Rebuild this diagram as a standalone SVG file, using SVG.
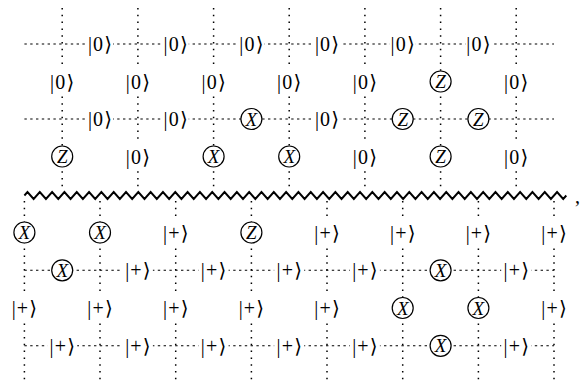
<svg xmlns="http://www.w3.org/2000/svg" width="584" height="383" viewBox="0 0 584 383">
<style>
.v{stroke:#000;stroke-width:1.5;stroke-dasharray:1.5 5.3;fill:none}
.h{stroke:#000;stroke-width:1.1;stroke-dasharray:2.4 3.4;fill:none}
.zz{stroke:#000;stroke-width:1.9;fill:none;stroke-linejoin:miter}
.bg{fill:#fff}
.c{fill:#fff;stroke:#000;stroke-width:1.2}
.t{font-family:"Liberation Serif","DejaVu Serif",serif;font-size:20px;letter-spacing:1.2px;text-anchor:middle;fill:#000}
.i{font-family:"Liberation Serif","DejaVu Serif",serif;font-size:19px;font-style:italic;text-anchor:middle;fill:#000}
</style>
<rect width="584" height="383" fill="#fff"/>
<g id="connectors">
<path class="v" d="M62.2,8V190M137.9,8V190M213.6,8V190M289.2,8V190M364.9,8V190M440.6,8V190M516.2,8V190"/>
<path class="h" d="M24.4,44H554M24.4,119H554"/>
<path class="v" d="M24.4,201V381M100,201V381M175.7,201V381M251.4,201V381M327,201V381M402.7,201V381M478.4,201V381M554,201V381"/>
<path class="h" d="M24.4,270.3H554M24.4,345.8H554"/>
<path class="zz" d="M24.4,195.5l3.079,-3.5 6.158,7 6.158,-7 6.158,7 6.158,-7 6.158,7 6.158,-7 6.158,7 6.158,-7 6.158,7 6.158,-7 6.158,7 6.158,-7 6.158,7 6.158,-7 6.158,7 6.158,-7 6.158,7 6.158,-7 6.158,7 6.158,-7 6.158,7 6.158,-7 6.158,7 6.158,-7 6.158,7 6.158,-7 6.158,7 6.158,-7 6.158,7 6.158,-7 6.158,7 6.158,-7 6.158,7 6.158,-7 6.158,7 6.158,-7 6.158,7 6.158,-7 6.158,7 6.158,-7 6.158,7 6.158,-7 6.158,7 6.158,-7 6.158,7 6.158,-7 6.158,7 6.158,-7 6.158,7 6.158,-7 6.158,7 6.158,-7 6.158,7 6.158,-7 6.158,7 6.158,-7 6.158,7 6.158,-7 6.158,7 6.158,-7 6.158,7 6.158,-7 6.158,7 6.158,-7 6.158,7 6.158,-7 6.158,7 6.158,-7 6.158,7 6.158,-7 6.158,7 6.158,-7 6.158,7 6.158,-7 6.158,7 6.158,-7 6.158,7 6.158,-7 6.158,7 6.158,-7 6.158,7 6.158,-7 6.158,7 6.158,-7 6.158,7 6.158,-7 6.158,7 3.079,-3.5"/>
</g>
<!-- top row 1 -->
<g id="t1a"><rect class="bg" x="87" y="32" width="26" height="24"/><text class="t" x="100.6" y="51">|0⟩</text></g>
<g id="t1b"><rect class="bg" x="162.7" y="32" width="26" height="24"/><text class="t" x="176.3" y="51">|0⟩</text></g>
<g id="t1c"><rect class="bg" x="238.4" y="32" width="26" height="24"/><text class="t" x="252" y="51">|0⟩</text></g>
<g id="t1d"><rect class="bg" x="314" y="32" width="26" height="24"/><text class="t" x="327.6" y="51">|0⟩</text></g>
<g id="t1e"><rect class="bg" x="389.7" y="32" width="26" height="24"/><text class="t" x="403.3" y="51">|0⟩</text></g>
<g id="t1f"><rect class="bg" x="465.4" y="32" width="26" height="24"/><text class="t" x="479" y="51">|0⟩</text></g>
<!-- top row 2 -->
<g id="t2a"><rect class="bg" x="49.2" y="68" width="26" height="27"/><text class="t" x="62.8" y="88.5">|0⟩</text></g>
<g id="t2b"><rect class="bg" x="124.9" y="68" width="26" height="27"/><text class="t" x="138.5" y="88.5">|0⟩</text></g>
<g id="t2c"><rect class="bg" x="200.6" y="68" width="26" height="27"/><text class="t" x="214.2" y="88.5">|0⟩</text></g>
<g id="t2d"><rect class="bg" x="276.2" y="68" width="26" height="27"/><text class="t" x="289.8" y="88.5">|0⟩</text></g>
<g id="t2e"><rect class="bg" x="351.9" y="68" width="26" height="27"/><text class="t" x="365.5" y="88.5">|0⟩</text></g>
<g id="t2f"><circle class="c" cx="440.6" cy="81.5" r="10.5"/><text class="i" x="440.6" y="88">Z</text></g>
<g id="t2g"><rect class="bg" x="503.2" y="68" width="26" height="27"/><text class="t" x="516.8" y="88.5">|0⟩</text></g>
<!-- top row 3 -->
<g id="t3a"><rect class="bg" x="87" y="107" width="26" height="24"/><text class="t" x="100.6" y="126">|0⟩</text></g>
<g id="t3b"><rect class="bg" x="162.7" y="107" width="26" height="24"/><text class="t" x="176.3" y="126">|0⟩</text></g>
<g id="t3c"><circle class="c" cx="251.4" cy="119" r="10.5"/><text class="i" x="251.4" y="125.5">X</text></g>
<g id="t3d"><rect class="bg" x="314" y="107" width="26" height="24"/><text class="t" x="327.6" y="126">|0⟩</text></g>
<g id="t3e"><circle class="c" cx="402.7" cy="119" r="10.5"/><text class="i" x="402.7" y="125.5">Z</text></g>
<g id="t3f"><circle class="c" cx="478.4" cy="119" r="10.5"/><text class="i" x="478.4" y="125.5">Z</text></g>
<!-- top row 4 -->
<g id="t4a"><circle class="c" cx="62.2" cy="156.5" r="10.5"/><text class="i" x="62.2" y="163">Z</text></g>
<g id="t4b"><rect class="bg" x="124.9" y="143" width="26" height="27"/><text class="t" x="138.5" y="163.5">|0⟩</text></g>
<g id="t4c"><circle class="c" cx="213.6" cy="156.5" r="10.5"/><text class="i" x="213.6" y="163">X</text></g>
<g id="t4d"><circle class="c" cx="289.2" cy="156.5" r="10.5"/><text class="i" x="289.2" y="163">X</text></g>
<g id="t4e"><rect class="bg" x="351.9" y="143" width="26" height="27"/><text class="t" x="365.5" y="163.5">|0⟩</text></g>
<g id="t4f"><circle class="c" cx="440.6" cy="156.5" r="10.5"/><text class="i" x="440.6" y="163">Z</text></g>
<g id="t4g"><rect class="bg" x="503.2" y="143" width="26" height="27"/><text class="t" x="516.8" y="163.5">|0⟩</text></g>
<!-- comma -->
<g id="comma"><text class="t" x="578" y="203">,</text></g>
<!-- bottom row 1 -->
<g id="b1a"><circle class="c" cx="24.4" cy="232.5" r="10.5"/><text class="i" x="24.4" y="239">X</text></g>
<g id="b1b"><circle class="c" cx="100" cy="232.5" r="10.5"/><text class="i" x="100" y="239">X</text></g>
<g id="b1c"><rect class="bg" x="160.7" y="219" width="30" height="27"/><text class="t" x="176.3" y="239.5">|+⟩</text></g>
<g id="b1d"><circle class="c" cx="251.4" cy="232.5" r="10.5"/><text class="i" x="251.4" y="239">Z</text></g>
<g id="b1e"><rect class="bg" x="312" y="219" width="30" height="27"/><text class="t" x="327.6" y="239.5">|+⟩</text></g>
<g id="b1f"><rect class="bg" x="387.7" y="219" width="30" height="27"/><text class="t" x="403.3" y="239.5">|+⟩</text></g>
<g id="b1g"><rect class="bg" x="463.4" y="219" width="30" height="27"/><text class="t" x="479" y="239.5">|+⟩</text></g>
<g id="b1h"><rect class="bg" x="539" y="219" width="30" height="27"/><text class="t" x="554.6" y="239.5">|+⟩</text></g>
<!-- bottom row 2 -->
<g id="b2a"><circle class="c" cx="62.2" cy="270.3" r="10.5"/><text class="i" x="62.2" y="276.8">X</text></g>
<g id="b2b"><rect class="bg" x="122.9" y="258" width="30" height="24"/><text class="t" x="138.5" y="277.3">|+⟩</text></g>
<g id="b2c"><rect class="bg" x="198.6" y="258" width="30" height="24"/><text class="t" x="214.2" y="277.3">|+⟩</text></g>
<g id="b2d"><rect class="bg" x="274.2" y="258" width="30" height="24"/><text class="t" x="289.8" y="277.3">|+⟩</text></g>
<g id="b2e"><rect class="bg" x="349.9" y="258" width="30" height="24"/><text class="t" x="365.5" y="277.3">|+⟩</text></g>
<g id="b2f"><circle class="c" cx="440.6" cy="270.3" r="10.5"/><text class="i" x="440.6" y="276.8">X</text></g>
<g id="b2g"><rect class="bg" x="501.2" y="258" width="30" height="24"/><text class="t" x="516.8" y="277.3">|+⟩</text></g>
<!-- bottom row 3 -->
<g id="b3a"><rect class="bg" x="9.4" y="294.5" width="30" height="27"/><text class="t" x="25" y="315">|+⟩</text></g>
<g id="b3b"><rect class="bg" x="85" y="294.5" width="30" height="27"/><text class="t" x="100.6" y="315">|+⟩</text></g>
<g id="b3c"><rect class="bg" x="160.7" y="294.5" width="30" height="27"/><text class="t" x="176.3" y="315">|+⟩</text></g>
<g id="b3d"><rect class="bg" x="236.4" y="294.5" width="30" height="27"/><text class="t" x="252" y="315">|+⟩</text></g>
<g id="b3e"><rect class="bg" x="312" y="294.5" width="30" height="27"/><text class="t" x="327.6" y="315">|+⟩</text></g>
<g id="b3f"><circle class="c" cx="402.7" cy="308" r="10.5"/><text class="i" x="402.7" y="314.5">X</text></g>
<g id="b3g"><circle class="c" cx="478.4" cy="308" r="10.5"/><text class="i" x="478.4" y="314.5">X</text></g>
<g id="b3h"><rect class="bg" x="539" y="294.5" width="30" height="27"/><text class="t" x="554.6" y="315">|+⟩</text></g>
<!-- bottom row 4 -->
<g id="b4a"><rect class="bg" x="47.2" y="334" width="30" height="24"/><text class="t" x="62.8" y="352.8">|+⟩</text></g>
<g id="b4b"><rect class="bg" x="122.9" y="334" width="30" height="24"/><text class="t" x="138.5" y="352.8">|+⟩</text></g>
<g id="b4c"><rect class="bg" x="198.6" y="334" width="30" height="24"/><text class="t" x="214.2" y="352.8">|+⟩</text></g>
<g id="b4d"><rect class="bg" x="274.2" y="334" width="30" height="24"/><text class="t" x="289.8" y="352.8">|+⟩</text></g>
<g id="b4e"><rect class="bg" x="349.9" y="334" width="30" height="24"/><text class="t" x="365.5" y="352.8">|+⟩</text></g>
<g id="b4f"><circle class="c" cx="440.6" cy="345.8" r="10.5"/><text class="i" x="440.6" y="352.3">X</text></g>
<g id="b4g"><rect class="bg" x="501.2" y="334" width="30" height="24"/><text class="t" x="516.8" y="352.8">|+⟩</text></g>
</svg>
